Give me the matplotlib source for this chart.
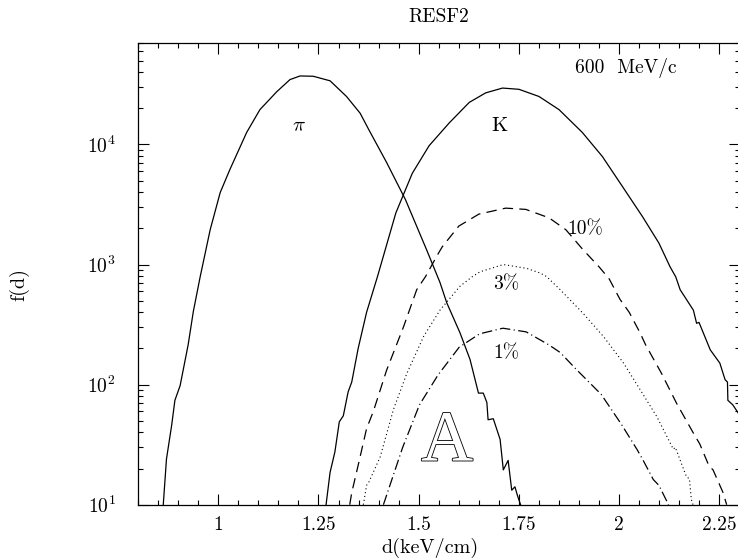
"""RESF2: dE/dx distributions for pi and K at 600 MeV/c."""
import matplotlib
matplotlib.use('Agg')
import matplotlib.pyplot as plt
import matplotlib.patheffects as pe
from matplotlib.ticker import FixedLocator, FuncFormatter, LogLocator

plt.rcParams['font.family'] = ['cmr10', 'DejaVu Serif']
plt.rcParams['mathtext.fontset'] = 'cm'
plt.rcParams['axes.formatter.use_mathtext'] = True
plt.rcParams['lines.scale_dashes'] = False

# pion curve
pi_d = [0.863, 0.871, 0.884, 0.892, 0.905, 0.925, 0.938, 0.955, 0.980, 1.005,
        1.029, 1.071, 1.104, 1.146, 1.179, 1.204, 1.237, 1.279, 1.320, 1.354,
        1.376, 1.420, 1.467, 1.520, 1.553, 1.570, 1.603, 1.628, 1.649, 1.661,
        1.670, 1.673, 1.686, 1.703, 1.711, 1.723, 1.732, 1.740, 1.746, 1.754]
pi_f = [10, 24, 46, 74, 98, 214, 407, 790, 1950, 3980,
        6170, 12600, 19500, 27500, 34700, 37200, 37000, 33900, 25100, 18200,
        13200, 7080, 3470, 1320, 710, 480, 270, 162, 85, 85,
        71, 51, 52, 35, 19.5, 23.4, 13.2, 14.1, 12, 10]

# kaon curve
k_d = [1.269, 1.279, 1.291, 1.302, 1.312, 1.324, 1.333, 1.349, 1.370, 1.397,
       1.443, 1.484, 1.526, 1.576, 1.626, 1.667, 1.709, 1.750, 1.800, 1.850,
       1.908, 1.958, 2.008, 2.058, 2.099, 2.127, 2.141, 2.152, 2.185, 2.193,
       2.199, 2.227, 2.251, 2.264, 2.270, 2.271, 2.283, 2.300]
k_f = [10, 18.6, 27.5, 49, 55, 87, 105, 200, 400, 790,
       2690, 5750, 9770, 15100, 22400, 26900, 29500, 28800, 25100, 19500,
       12600, 7940, 4470, 2510, 1510, 955, 790, 617, 417, 324,
       330, 195, 151, 110, 105, 74, 68, 56]

# 10% contamination (dashed)
k10_d = [1.328, 1.333, 1.350, 1.370, 1.387, 1.420, 1.462, 1.495, 1.517, 1.545,
         1.559, 1.600, 1.650, 1.717, 1.767, 1.825, 1.867, 1.908, 1.950, 1.975,
         2.002, 2.025, 2.052, 2.066, 2.105, 2.143, 2.184, 2.201, 2.224, 2.234,
         2.259, 2.268]
k10_f = [10, 12.6, 22, 43, 60, 132, 302, 617, 794, 1175,
         1410, 2090, 2630, 2950, 2880, 2450, 1950, 1350, 955, 760,
         513, 400, 270, 214, 125, 70, 40, 32, 21, 19.5,
         12.6, 10]

# 3% (dotted)
k3_d = [1.362, 1.370, 1.376, 1.404, 1.437, 1.470, 1.512, 1.553, 1.603, 1.634,
        1.653, 1.711, 1.769, 1.803, 1.819, 1.853, 1.911, 1.961, 2.011, 2.052,
        2.094, 2.135, 2.140, 2.168, 2.175, 2.180, 2.184]
k3_f = [10, 14.5, 15.5, 25, 62, 123, 251, 417, 660, 794,
        870, 1000, 930, 850, 794, 617, 389, 251, 151, 91,
        54, 29, 30, 17, 16.5, 11, 10]

# 1% (dash-dot)
k1_d = [1.412, 1.460, 1.502, 1.548, 1.601, 1.652, 1.710, 1.768, 1.825, 1.853,
        1.892, 1.955, 2.005, 2.044, 2.058, 2.085, 2.099, 2.123]
k1_f = [10, 30, 68, 120, 205, 265, 295, 275, 214, 185,
        135, 83, 47, 29, 24, 16.2, 14.5, 10]

x_major = [1.0, 1.25, 1.5, 1.75, 2.0, 2.25]

fig = plt.figure(figsize=(7.38, 5.58), dpi=100)
ax = fig.add_axes([138 / 738, 53.3 / 558, 601.5 / 738, 461.7 / 558])

lw = 0.9
ax.plot(pi_d, pi_f, color='black', lw=lw)
ax.plot(k_d, k_f, color='black', lw=lw)
ax.plot(k10_d, k10_f, color='black', lw=lw, linestyle=(0, (7.5, 4.5)))
ax.plot(k3_d, k3_f, color='black', lw=0.8, linestyle=(0, (0.8, 2.0)))
ax.plot(k1_d, k1_f, color='black', lw=lw, linestyle=(0, (7.5, 2.5, 0.8, 2.5)))

ax.set_yscale('log')
ax.set_xlim(0.8, 2.3)
ax.set_ylim(10, 7.0e4)

ax.xaxis.set_major_locator(FixedLocator(x_major))
ax.xaxis.set_minor_locator(FixedLocator([0.8 + 0.05 * i for i in range(31)]))
ax.xaxis.set_major_formatter(FuncFormatter(lambda v, p: f'{v:g}'))
ax.yaxis.set_minor_locator(LogLocator(base=10, subs=range(2, 10)))

ax.tick_params(which='both', direction='in', top=True, right=True, width=0.8,
               labelsize=14)
ax.tick_params(which='major', length=8)
ax.tick_params(which='minor', length=3.8)
ax.tick_params(axis='x', which='major', pad=8)
ax.tick_params(axis='y', which='major', pad=16)
for s in ax.spines.values():
    s.set_linewidth(0.9)

ax.set_title('RESF2', fontsize=14, pad=15)
ax.set_xlabel('d(keV/cm)', fontsize=14.5, va='center')
ax.xaxis.set_label_coords(0.486, -0.0935)
ax.set_ylabel('f(d)', fontsize=14.5)
ax.yaxis.set_label_coords(-0.18, 0.478)

ax.text(1.201, 14200, r'$\pi$', fontsize=15, ha='center', va='center')
ax.text(1.701, 14200, 'K', fontsize=15, ha='center', va='center')
ax.text(1.916, 1960, '10%', fontsize=14, ha='center', va='center')
ax.text(1.717, 681, '3%', fontsize=14, ha='center', va='center')
ax.text(1.719, 183, '1%', fontsize=14, ha='center', va='center')
ax.text(2.017, 43600, '600  MeV/c', fontsize=14, ha='center', va='center')

ax.text(1.571, 23.3, 'A', fontsize=52, family='Liberation Serif',
        ha='center', va='baseline', color='white',
        path_effects=[pe.withStroke(linewidth=1.2, foreground='black')])

plt.savefig('out.png', dpi=100)
